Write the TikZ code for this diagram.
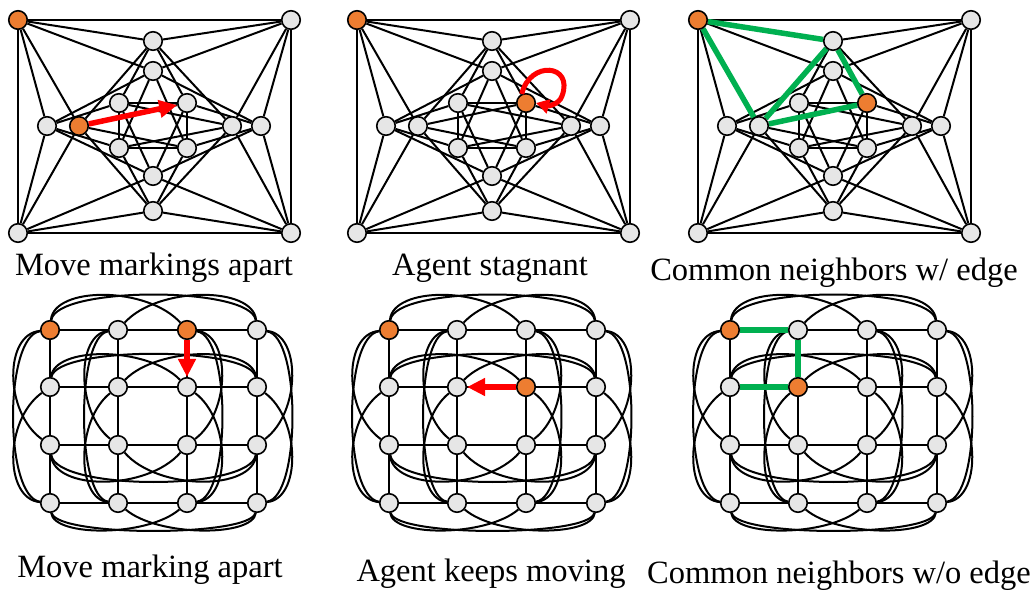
\documentclass[tikz,border=0pt]{standalone}
\usepackage{fontspec}
\setmainfont{Liberation Serif}
\usetikzlibrary{arrows.meta,backgrounds}
\definecolor{nodegray}{RGB}{230,230,230}
\definecolor{nodeorange}{RGB}{237,125,49}
\definecolor{pathgreen}{RGB}{0,176,80}
\definecolor{arrowred}{RGB}{255,0,0}

\tikzset{
  vert/.style={circle,draw=black,line width=1.6pt,fill=nodegray,minimum size=18.5pt,inner sep=0pt},
  edge/.style={line width=2pt,draw=black},
  walk/.style={line width=5.5pt,draw=pathgreen},
  move/.style={line width=5.5pt,draw=arrowred,-{Triangle[length=18pt,width=17pt]}},
  loopmove/.style={line width=5pt,draw=arrowred,-{Triangle[length=13pt,width=14pt]}},
  caption/.style={font=\fontsize{32.5}{38}\selectfont,anchor=base,inner sep=0pt},
}

% flag a node as highlighted (orange)
\newcommand\markhot[1]{\expandafter\def\csname hot@#1\endcsname{}}
\newcommand\pickfill[1]{\ifcsname hot@#1\endcsname\def\vfill{nodeorange}\else\def\vfill{nodegray}\fi}

% Shrikhande graph; #1 = x offset, #2 = name prefix
\newcommand\shrikpanel[2]{%
  \foreach \n/\x/\y in {TL/18/20,TR/291/20,BL/18/233,BR/291/233,
      T1/153/41,T2/153/71,B2/153/176,B1/153/211,
      L1/47/126,L2/79/126,R2/232/126,R1/261/126,
      a/119/103,b/187/103,c/119/148,d/187/148}{%
    \pickfill{#2\n}%
    \node[vert,fill=\vfill] (#2\n) at (#1+\x,\y) {};
  }
  \begin{scope}[on background layer]
    \foreach \u/\v in {TL/TR,TL/BL,TR/BR,BL/BR,TL/T1,TL/T2,TL/L1,TL/L2,
        TR/T1,TR/T2,TR/R1,TR/R2,BL/B1,BL/B2,BL/L1,BL/L2,BR/B1,BR/B2,BR/R1,BR/R2,
        T1/L2,T1/R2,T1/a,T1/b,T2/L1,T2/R1,T2/c,T2/d,B1/L2,B1/R2,B1/c,B1/d,
        B2/L1,B2/R1,B2/a,B2/b,a/b,c/d,a/c,b/d,
        L1/a,L1/c,L2/b,L2/d,R1/b,R1/d,R2/a,R2/c}
      \draw[edge] (#2\u) -- (#2\v);
  \end{scope}
}

% 4x4 rook's graph; #1 = x offset, #2 = name prefix
\newcommand\rookpanel[2]{%
  \foreach \r/\y in {1/330,2/387,3/445,4/503}{%
    \foreach \c/\x in {1/50,2/118,3/187,4/257}{%
      \pickfill{#2\r\c}%
      \node[vert,fill=\vfill] (#2\r\c) at (#1+\x,\y) {};
    }
  }
  \begin{scope}[on background layer]
    \foreach \i in {1,2,3,4}{%
      \draw[edge] (#2\i1) -- (#2\i2) -- (#2\i3) -- (#2\i4);
      \draw[edge] (#21\i) -- (#22\i) -- (#23\i) -- (#24\i);
    }
    % row arcs: row / vertical reach (negative = above)
    \foreach \i/\h in {1/-44,2/-41,3/46,4/34}{%
      \draw[edge] (#2\i1) .. controls +(6,\h) and +(-6,\h) .. (#2\i4);
      \draw[edge] (#2\i1) .. controls +(4,\h) and +(-40,\h) .. (#2\i3);
      \draw[edge] (#2\i2) .. controls +(40,\h) and +(-4,\h) .. (#2\i4);
    }
    % column arcs: column / horizontal reach (negative = left)
    \foreach \i/\h in {1/-46,2/-42,3/44,4/44}{%
      \draw[edge] (#21\i) .. controls +(\h,6) and +(\h,-6) .. (#24\i);
      \draw[edge] (#21\i) .. controls +(\h,4) and +(\h,-33) .. (#23\i);
      \draw[edge] (#22\i) .. controls +(\h,33) and +(\h,-4) .. (#24\i);
    }
  \end{scope}
}

\begin{document}
\begin{tikzpicture}[x=1pt,y=-1pt]
  \useasboundingbox (0,0) rectangle (1036,590);

  \markhot{pTL}\markhot{pL2}
  \markhot{qTL}\markhot{qb}
  \markhot{rTL}\markhot{rb}
  \markhot{u11}\markhot{u13}
  \markhot{v11}\markhot{v23}
  \markhot{w11}\markhot{w22}

  \shrikpanel{0}{p}
  \shrikpanel{339}{q}
  \shrikpanel{680}{r}
  \rookpanel{0}{u}
  \rookpanel{339}{v}
  \rookpanel{680}{w}

  % highlighted walks
  \begin{scope}[on background layer]
    \draw[walk] (rL2) -- (rTL) -- (rT1) -- (rL2) -- (rb) -- (rT1);
    \draw[walk] (w11) -- (w12) -- (w22) -- (w21) -- cycle;
  \end{scope}

  % moves
  \draw[move] (pL2) -- (pb);
  \draw[loopmove] (qb.115) .. controls (530,60) and (574,64) .. (562,96)
                  .. controls (559,105) and (547,106) .. (qb.east);
  \draw[move] (u13) -- (u23);
  \draw[move] (v23) -- (v22);

  % captions
  \node[caption] (c1) at (154,275) {Move markings apart};
  \node[caption] (c2) at (490,275) {Agent stagnant};
  \node[caption] (c3) at (834,280) {Common neighbors w/ edge};
  \node[caption] (c4) at (150,577) {Move marking apart};
  \node[caption] (c5) at (491,581) {Agent keeps moving};
  \node[caption] (c6) at (839,583) {Common neighbors w/o edge};
\end{tikzpicture}
\end{document}
